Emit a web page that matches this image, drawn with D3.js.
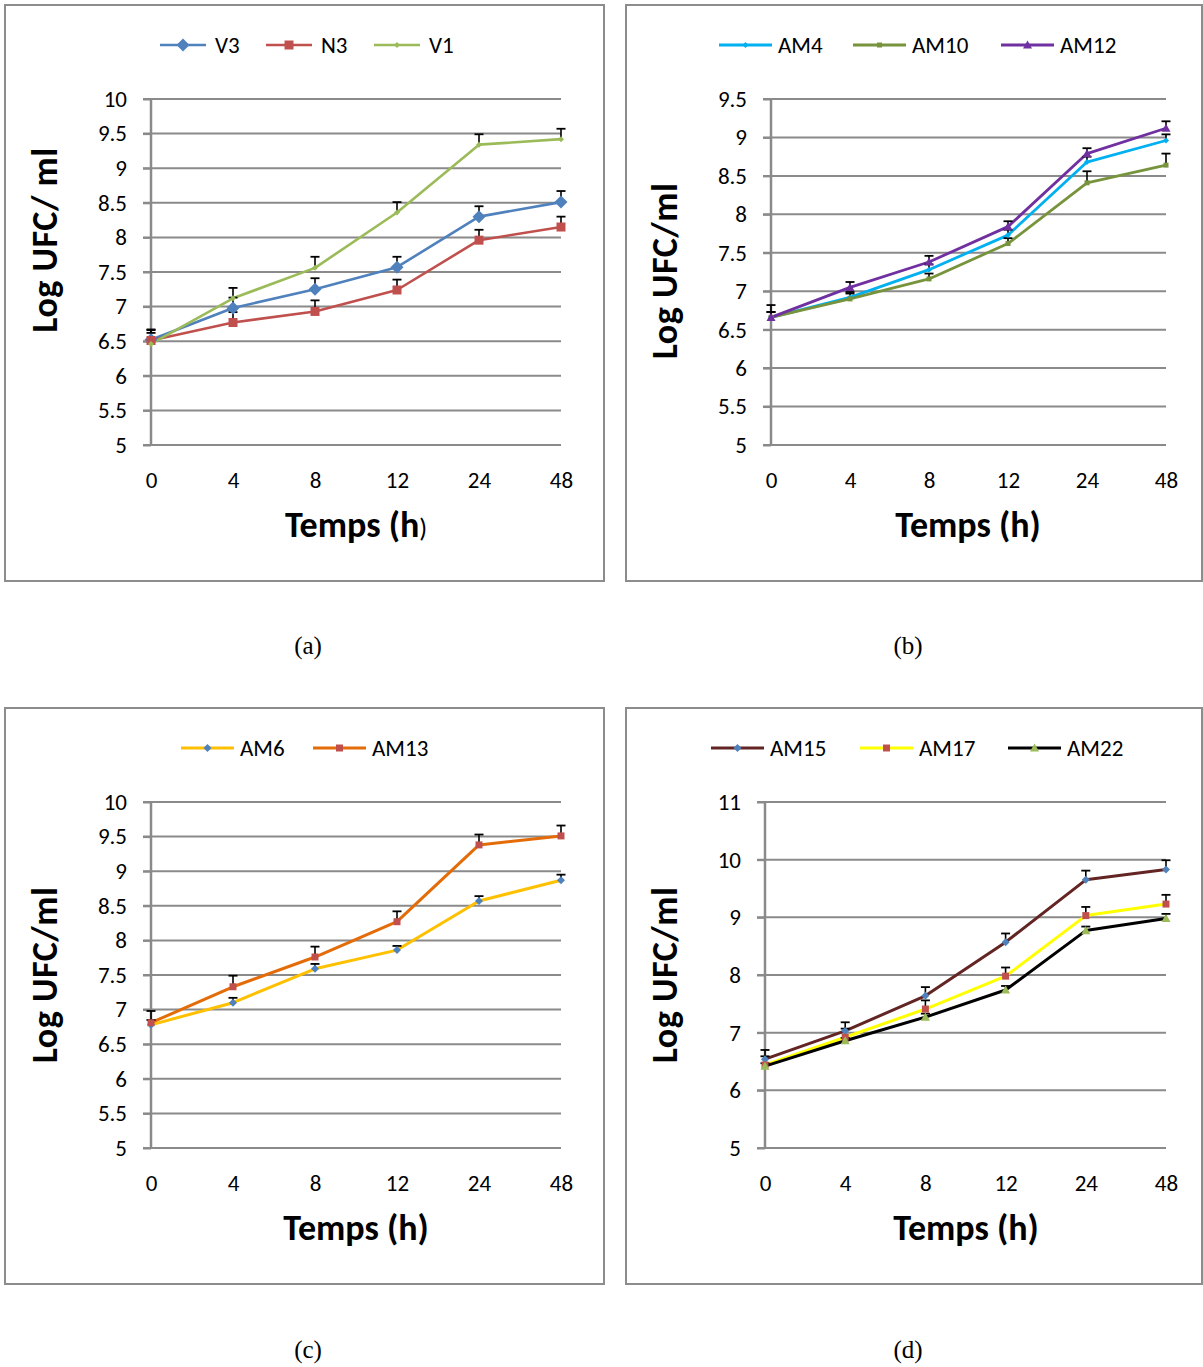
<!DOCTYPE html>
<html><head><meta charset="utf-8">
<script src="https://cdn.jsdelivr.net/npm/d3@7"></script>
<style>
body{margin:0;background:#fff}
svg text{font-family:Carlito, Lato, "Liberation Sans", sans-serif;fill:#000}
</style>
</head><body>
<svg id="chart" width="1203" height="1367"></svg>
<script>
// ---------- DATA ----------
const times = ["0", "4", "8", "12", "24", "48"];

// panel (a)
const yTicksA = [5, 5.5, 6, 6.5, 7, 7.5, 8, 8.5, 9, 9.5, 10];
const V3 = [6.52, 6.98, 7.25, 7.57, 8.30, 8.51];
const V3_err = [0.15, 0.15, 0.16, 0.15, 0.15, 0.16];
const N3 = [6.51, 6.77, 6.93, 7.24, 7.96, 8.15];
const N3_err = [0.15, 0.15, 0.16, 0.15, 0.15, 0.15];
const V1 = [6.46, 7.12, 7.56, 8.36, 9.34, 9.42];
const V1_err = [0.16, 0.15, 0.16, 0.15, 0.15, 0.15];

// panel (b)
const yTicksB = [5, 5.5, 6, 6.5, 7, 7.5, 8, 8.5, 9, 9.5];
const AM4 = [6.66, 6.92, 7.28, 7.73, 8.68, 8.96];
const AM4_err = [0.07, 0.07, 0.07, 0.07, 0.07, 0.08];
const AM10 = [6.66, 6.90, 7.16, 7.62, 8.41, 8.64];
const AM10_err = [0.07, 0.07, 0.07, 0.07, 0.15, 0.15];
const AM12 = [6.66, 7.05, 7.38, 7.84, 8.79, 9.12];
const AM12_err = [0.16, 0.07, 0.08, 0.07, 0.07, 0.09];

// panel (c)
const yTicksC = [5, 5.5, 6, 6.5, 7, 7.5, 8, 8.5, 9, 9.5, 10];
const AM6 = [6.78, 7.10, 7.59, 7.86, 8.57, 8.87];
const AM6_err = [0.07, 0.07, 0.07, 0.06, 0.07, 0.08];
const AM13 = [6.81, 7.33, 7.76, 8.27, 9.38, 9.51];
const AM13_err = [0.17, 0.16, 0.15, 0.15, 0.15, 0.15];

// panel (d)
const yTicksD = [5, 6, 7, 8, 9, 10, 11];
const AM15 = [6.54, 7.03, 7.64, 8.57, 9.65, 9.83];
const AM15_err = [0.16, 0.15, 0.15, 0.15, 0.16, 0.16];
const AM17 = [6.44, 6.92, 7.41, 7.98, 9.03, 9.23];
const AM17_err = [0.15, 0.15, 0.15, 0.15, 0.15, 0.16];
const AM22 = [6.42, 6.86, 7.27, 7.74, 8.77, 8.98];
const AM22_err = [0.05, 0.05, 0.06, 0.07, 0.07, 0.08];

// ---------- LAYOUT / STYLE ----------
const panels = [
  { frame: [5, 5, 599, 576], left: 151, right: 561, top: 99, bottom: 445,
    domain: [5, 10], ticks: yTicksA, yTitle: "Log UFC/ ml", yTitlePos: [45, 240],
    xTitlePos: [356, 537], smallParen: true, caption: "(a)", capPos: [308, 654],
    legendY: 45, legendX: [160, 266, 374], legendLen: 46, legendGap: 9,
    series: [
      { name: "V3", v: V3, e: V3_err, color: "#4F81BD", mcolor: "#4F81BD", shape: "diamond", size: 6.5, w: 2.6 },
      { name: "N3", v: N3, e: N3_err, color: "#C0504D", mcolor: "#C0504D", shape: "square", size: 4.5, w: 2.6 },
      { name: "V1", v: V1, e: V1_err, color: "#9BBB59", mcolor: "#9BBB59", shape: "diamond", size: 3, w: 2.6 }
    ]},
  { frame: [626, 5, 576, 576], left: 771, right: 1166, top: 99, bottom: 445,
    domain: [5, 9.5], ticks: yTicksB, yTitle: "Log UFC/ml", yTitlePos: [665, 271],
    xTitlePos: [968, 537], caption: "(b)", capPos: [908, 654],
    legendY: 45, legendX: [719, 853, 1001], legendLen: 53, legendGap: 6,
    series: [
      { name: "AM4", v: AM4, e: AM4_err, color: "#00B0F0", mcolor: "#00B0F0", shape: "diamond", size: 3, w: 2.8 },
      { name: "AM10", v: AM10, e: AM10_err, color: "#77933C", mcolor: "#77933C", shape: "square", size: 2.5, w: 2.8 },
      { name: "AM12", v: AM12, e: AM12_err, color: "#7030A0", mcolor: "#7030A0", shape: "triangle", size: 4.5, w: 2.8 }
    ]},
  { frame: [5, 708, 599, 576], left: 151, right: 561, top: 802, bottom: 1148,
    domain: [5, 10], ticks: yTicksC, yTitle: "Log UFC/ml", yTitlePos: [45, 975],
    xTitlePos: [356, 1240], caption: "(c)", capPos: [308, 1358],
    legendY: 748, legendX: [181, 313], legendLen: 53, legendGap: 6,
    series: [
      { name: "AM6", v: AM6, e: AM6_err, color: "#FFC000", mcolor: "#4F81BD", shape: "diamond", size: 4, w: 3 },
      { name: "AM13", v: AM13, e: AM13_err, color: "#E36C09", mcolor: "#C0504D", shape: "square", size: 3.5, w: 3 }
    ]},
  { frame: [626, 708, 576, 576], left: 765, right: 1166, top: 802, bottom: 1148,
    domain: [5, 11], ticks: yTicksD, yTitle: "Log UFC/ml", yTitlePos: [665, 975],
    xTitlePos: [966, 1240], caption: "(d)", capPos: [908, 1358],
    legendY: 748, legendX: [711, 860, 1008], legendLen: 53, legendGap: 6,
    series: [
      { name: "AM15", v: AM15, e: AM15_err, color: "#632523", mcolor: "#4F81BD", shape: "diamond", size: 4, w: 3 },
      { name: "AM17", v: AM17, e: AM17_err, color: "#FFFF00", mcolor: "#C0504D", shape: "square", size: 3.5, w: 3 },
      { name: "AM22", v: AM22, e: AM22_err, color: "#000000", mcolor: "#9BBB59", shape: "triangle", size: 4.5, w: 3 }
    ]}
];

function shapePath(shape, r) {
  if (shape === "diamond") return `M0,${-r}L${r},0L0,${r}L${-r},0Z`;
  if (shape === "square") return `M${-r},${-r}H${r}V${r}H${-r}Z`;
  return `M0,${-r}L${r},${r * 0.8}L${-r},${r * 0.8}Z`;
}

const svg = d3.select("#chart");
const GRID = "#8a8a8a";
const FONT = "Carlito, Lato, sans-serif";

panels.forEach(p => {
  const g = svg.append("g");
  // frame
  g.append("rect").attr("x", p.frame[0]).attr("y", p.frame[1])
    .attr("width", p.frame[2]).attr("height", p.frame[3])
    .attr("fill", "#fff").attr("stroke", "#8c8c8c").attr("stroke-width", 2);

  const x = d3.scalePoint().domain(times).range([p.left, p.right]).padding(0);
  const y = d3.scaleLinear().domain(p.domain).range([p.bottom, p.top]);

  // gridlines
  g.append("g").selectAll("line").data(p.ticks).join("line")
    .attr("x1", p.left - 8).attr("x2", p.right)
    .attr("y1", d => y(d)).attr("y2", d => y(d))
    .attr("stroke", GRID).attr("stroke-width", 2);

  // y axis
  const ya = g.append("g").attr("transform", `translate(${p.left},0)`)
    .call(d3.axisLeft(y).tickValues(p.ticks).tickSize(8).tickPadding(16).tickFormat(d => String(d)));
  ya.select(".domain").attr("stroke", GRID).attr("stroke-width", 2.5).attr("d", `M0,${p.top}V${p.bottom}`);
  ya.selectAll(".tick line").attr("stroke", GRID).attr("stroke-width", 2);
  ya.selectAll("text").style("font-size", "23px").style("font-family", FONT);

  // x axis labels
  const xa = g.append("g").attr("transform", `translate(0,${p.bottom})`)
    .call(d3.axisBottom(x).tickSize(0).tickPadding(0));
  xa.select(".domain").remove();
  xa.selectAll("text").attr("dy", null).attr("y", 43)
    .style("font-size", "23px").style("font-family", FONT);

  // axis titles
  g.append("text").attr("transform", `translate(${p.yTitlePos[0]},${p.yTitlePos[1]}) rotate(-90)`)
    .attr("text-anchor", "middle").attr("dominant-baseline", "central")
    .style("font-size", "36px").style("font-weight", "bold").style("letter-spacing", "0.5px").text(p.yTitle);
  const xt = g.append("text").attr("x", p.xTitlePos[0]).attr("y", p.xTitlePos[1])
    .attr("text-anchor", "middle").style("font-size", "36px").style("font-weight", "bold");
  if (p.smallParen) {
    xt.append("tspan").text("Temps (h");
    xt.append("tspan").style("font-size", "26px").style("font-weight", "normal").text(")");
  } else xt.text("Temps (h)");

  // caption
  g.append("text").attr("x", p.capPos[0]).attr("y", p.capPos[1]).attr("text-anchor", "middle")
    .style("font-family", "'Liberation Serif', 'Times New Roman', serif").style("font-size", "25px")
    .text(p.caption);

  const line = d3.line().x((d, i) => x(times[i])).y(d => y(d));

  // lines
  p.series.forEach(s => {
    g.append("path").datum(s.v).attr("d", line).attr("fill", "none")
      .attr("stroke", s.color).attr("stroke-width", s.w).attr("stroke-linejoin", "round");
  });
  // error bars (upper only)
  p.series.forEach(s => {
    const eb = g.append("g");
    s.v.forEach((v, i) => {
      const cx = x(times[i]);
      eb.append("line").attr("x1", cx).attr("x2", cx).attr("y1", y(v)).attr("y2", y(v + s.e[i]))
        .attr("stroke", "#000").attr("stroke-width", 1.6);
      eb.append("line").attr("x1", cx - 4.5).attr("x2", cx + 4.5).attr("y1", y(v + s.e[i])).attr("y2", y(v + s.e[i]))
        .attr("stroke", "#000").attr("stroke-width", 1.8);
    });
  });
  // markers
  p.series.forEach(s => {
    g.append("g").selectAll("path").data(s.v).join("path")
      .attr("transform", (d, i) => `translate(${x(times[i])},${y(d)})`)
      .attr("d", shapePath(s.shape, s.size)).attr("fill", s.mcolor);
  });

  // legend
  p.series.forEach((s, k) => {
    const lx = p.legendX[k], ly = p.legendY;
    g.append("line").attr("x1", lx).attr("x2", lx + p.legendLen).attr("y1", ly).attr("y2", ly)
      .attr("stroke", s.color).attr("stroke-width", s.w);
    g.append("path").attr("transform", `translate(${lx + p.legendLen / 2},${ly})`)
      .attr("d", shapePath(s.shape, s.size)).attr("fill", s.mcolor);
    g.append("text").attr("x", lx + p.legendLen + p.legendGap).attr("y", ly)
      .attr("dominant-baseline", "central").style("font-size", "23px").text(s.name);
  });
});
</script>
</body></html>
